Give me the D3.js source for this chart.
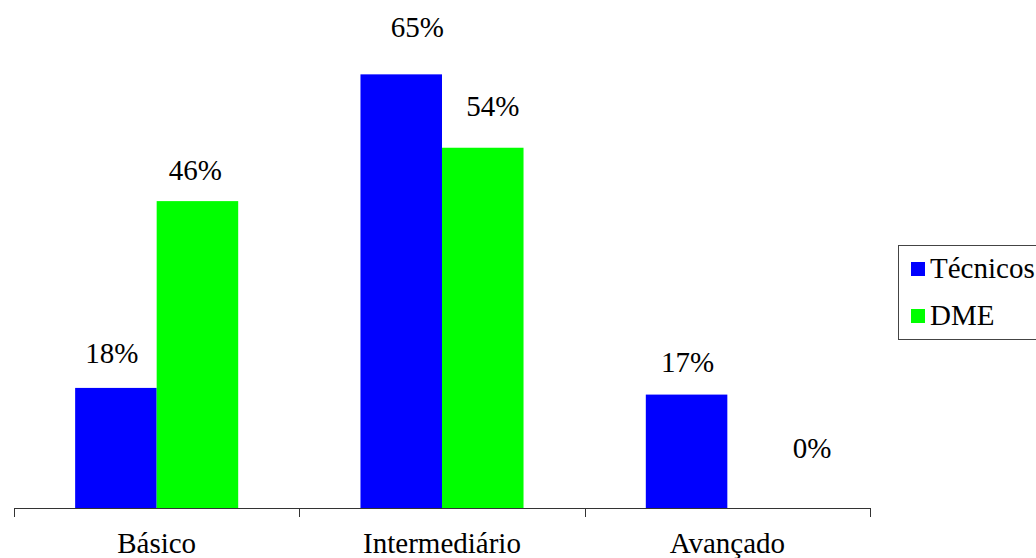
<!DOCTYPE html>
<html>
<head>
<meta charset="utf-8">
<script src="https://cdn.jsdelivr.net/npm/d3@7"></script>
<style>
  html, body { margin: 0; padding: 0; background: #fff; }
  svg { display: block; }
</style>
</head>
<body>
<svg id="chart" width="1036" height="558"></svg>
<script>
// Nível de conhecimento por grupo (%)
const categories = ["Básico", "Intermediário", "Avançado"];
const seriesNames = ["Técnicos", "DME"];
const tecnicos = [18, 65, 17];
const dme = [46, 54, 0];
const seriesColors = ["#0000ff", "#00ff00"];

// Small nudges for the value labels [dx, dy] relative to the bar centre / top
const labelNudge = {
  "Técnicos": [[-4, -25], [16, -37], [1, -23]],
  "DME": [[-2, -21], [10, -32], [44, -50]]
};

const FONT = "Times New Roman";

const svg = d3.select("#chart");
const baseline = 508;
const x0 = d3.scaleBand().domain(categories).range([14, 870]).padding(0);
const x1 = d3.scaleBand().domain(seriesNames).range([0, x0.bandwidth()])
  .paddingInner(0).paddingOuter(0.75);
const y = d3.scaleLinear().domain([0, 70]).range([baseline, baseline - 467]);

const rows = categories.map((c, i) => ({ cat: c, vals: [tecnicos[i], dme[i]] }));

const groups = svg.selectAll("g.cat").data(rows).join("g")
  .attr("class", "cat")
  .attr("transform", d => `translate(${x0(d.cat)},0)`);

groups.selectAll("rect").data(d => d.vals.map((v, j) => ({ s: seriesNames[j], v, j })))
  .join("rect")
  .attr("x", d => x1(d.s))
  .attr("width", x1.bandwidth())
  .attr("y", d => y(d.v))
  .attr("height", d => baseline - y(d.v))
  .attr("fill", d => seriesColors[d.j]);

groups.each(function (d, i) {
  d3.select(this).selectAll("text.val")
    .data(d.vals.map((v, j) => ({ s: seriesNames[j], v })))
    .join("text")
    .attr("class", "val")
    .attr("x", e => x1(e.s) + x1.bandwidth() / 2 + labelNudge[e.s][i][0])
    .attr("y", e => y(e.v) + labelNudge[e.s][i][1])
    .attr("text-anchor", "middle")
    .attr("font-family", FONT)
    .attr("font-size", 29)
    .attr("fill", "#000")
    .text(e => e.v + "%");
});

// Category axis with ticks on the band boundaries
const axisG = svg.append("g").attr("transform", `translate(0,${baseline})`);
axisG.append("line")
  .attr("x1", x0.range()[0]).attr("x2", x0.range()[1])
  .attr("y1", 0.5).attr("y2", 0.5)
  .attr("stroke", "#333").attr("stroke-width", 1);
const bounds = categories.map(c => x0(c)).concat([x0.range()[1]]);
axisG.selectAll("line.tick").data(bounds).join("line")
  .attr("class", "tick")
  .attr("x1", d => Math.round(d) + 0.5).attr("x2", d => Math.round(d) + 0.5)
  .attr("y1", 0).attr("y2", 9)
  .attr("stroke", "#333");
axisG.selectAll("text").data(categories).join("text")
  .attr("x", d => x0(d) + x0.bandwidth() / 2)
  .attr("y", 45)
  .attr("text-anchor", "middle")
  .attr("font-family", FONT)
  .attr("font-size", 29)
  .text(d => d);

// Legend
const lg = svg.append("g").attr("transform", "translate(898,245)");
lg.append("rect")
  .attr("x", 0.5).attr("y", 0.5).attr("width", 150).attr("height", 94)
  .attr("fill", "none").attr("stroke", "#444");
seriesNames.forEach((s, i) => {
  lg.append("rect")
    .attr("x", 13).attr("y", 17 + i * 47).attr("width", 14).attr("height", 14)
    .attr("fill", seriesColors[i]);
  lg.append("text")
    .attr("x", 32).attr("y", 33 + i * 47)
    .attr("font-family", FONT)
    .attr("font-size", 29)
    .text(s);
});
</script>
</body>
</html>
